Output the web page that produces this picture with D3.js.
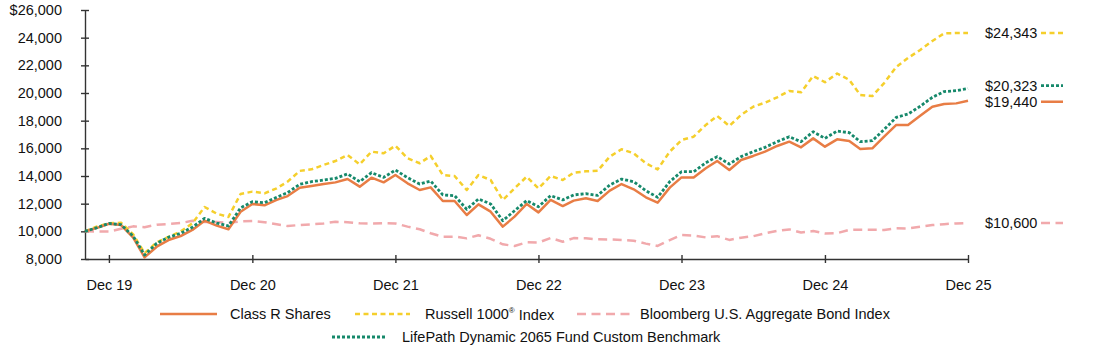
<!DOCTYPE html>
<html>
<head>
<meta charset="utf-8">
<script src="https://cdn.jsdelivr.net/npm/d3@7"></script>
<style>
  body { margin: 0; background: #fff; }
  svg { display: block; font-family: "Liberation Sans", Arial, sans-serif; }
</style>
</head>
<body>
<div id="chart"></div>
<script>
// month-end values, Oct 2019 .. Dec 2025
const classR = [10000, 10250, 10550, 10450, 9550, 8120, 8890, 9370, 9660, 10100, 10770, 10410, 10150, 11420, 11980,
  11880, 12270, 12550, 13150, 13280, 13420, 13540, 13780, 13230, 13880, 13540, 14070,
  13470, 12990, 13180, 12190, 12190, 11180, 11950, 11420, 10340, 11060, 11980, 11370,
  12270, 11830, 12220, 12390, 12190, 12940, 13420, 13040, 12460, 12070, 13160, 13900,
  13900, 14560, 15080, 14430, 15160, 15450, 15760, 16170, 16480, 16070, 16720, 16120,
  16650, 16530, 15950, 16000, 16840, 17690, 17690, 18360, 19010, 19200, 19250, 19440]
const russell = [10000, 10350, 10580, 10620, 9780, 8420, 9200, 9600, 9990, 10580, 11760, 11280, 11040, 12700, 12870,
  12750, 13110, 13590, 14370, 14480, 14800, 15080, 15520, 14840, 15760, 15640, 16190,
  15280, 14920, 15450, 14070, 14000, 12990, 14070, 13710, 12270, 13110, 13950, 13110,
  14000, 13710, 14240, 14340, 14380, 15400, 15930, 15640, 14920, 14480, 15760, 16600,
  16840, 17690, 18340, 17620, 18410, 19010, 19300, 19690, 20150, 20050, 21230, 20780,
  21410, 20950, 19860, 19780, 20720, 21880, 22530, 23110, 23760, 24310, 24340, 24343]
const bond = [10000, 9990, 9980, 10180, 10360, 10300, 10480, 10530, 10600, 10760, 10670, 10670, 10620, 10720, 10740,
  10660, 10510, 10380, 10460, 10510, 10570, 10690, 10660, 10580, 10570, 10590, 10570,
  10340, 10150, 9860, 9600, 9620, 9490, 9720, 9460, 9060, 8940, 9210, 9190,
  9520, 9250, 9510, 9500, 9420, 9410, 9380, 9320, 9110, 8940, 9370, 9730,
  9700, 9560, 9650, 9380, 9540, 9650, 9860, 10030, 10140, 9910, 10020, 9850,
  9870, 10100, 10120, 10110, 10100, 10220, 10210, 10330, 10450, 10520, 10570, 10600]
const custom = [10000, 10270, 10570, 10480, 9650, 8290, 9130, 9570, 9860, 10300, 10940, 10600, 10390, 11700, 12140,
  12070, 12460, 12800, 13400, 13590, 13710, 13830, 14150, 13590, 14240, 13900, 14430,
  13880, 13420, 13640, 12630, 12580, 11590, 12340, 11980, 10770, 11490, 12220, 11780,
  12580, 12270, 12630, 12720, 12600, 13350, 13780, 13590, 12940, 12460, 13590, 14310,
  14310, 14960, 15400, 14870, 15400, 15760, 16070, 16480, 16840, 16480, 17200, 16720,
  17250, 17130, 16480, 16550, 17370, 18240, 18480, 19040, 19690, 20100, 20170, 20323]

const seriesNames = ['Class R Shares', 'Russell 1000', 'Bloomberg U.S. Aggregate Bond Index',
  'LifePath Dynamic 2065 Fund Custom Benchmark']
const endLabels = ['$19,440', '$24,343', '$10,600', '$20,323']
const yTicks = [8000, 10000, 12000, 14000, 16000, 18000, 20000, 22000, 24000, 26000]

const width = 1094, height = 349
const fontSize = 14.5
const months = d3.timeMonth.range(new Date(2019, 9, 1), new Date(2026, 0, 1))
const xTicks = months.filter(d => d.getMonth() === 11)

const series = [
  { name: seriesNames[0], values: classR, color: '#E87D45', dash: null, w: 2.5, label: endLabels[0], nudge: 1 },
  { name: seriesNames[1], values: russell, color: '#F5CF2C', dash: '5,3.5', w: 2.5, label: endLabels[1], nudge: 0 },
  { name: seriesNames[2], values: bond, color: '#F1A9AC', dash: '9,5.5', w: 2.5, label: endLabels[2], nudge: 0 },
  { name: seriesNames[3], values: custom, color: '#16896B', dash: '3,2', w: 2.8, label: endLabels[3], nudge: -3 }
]

const svg = d3.select('#chart').append('svg')
  .attr('width', width).attr('height', height)

const x = d3.scaleTime().domain([months[0], months[months.length - 1]]).range([85, 968])
const y = d3.scaleLinear().domain([8000, 26000]).range([259, 10])

// axes
const yAxis = svg.append('g')
  .attr('transform', 'translate(85,0)')
  .call(d3.axisLeft(y).tickValues(yTicks).tickSizeOuter(0).tickSizeInner(4).tickPadding(19)
    .tickFormat(d => (d === 26000 ? '$' : '') + d3.format(',')(d)))
yAxis.selectAll('.tick line').attr('x1', -4).attr('x2', 4)

const xAxis = svg.append('g')
  .attr('transform', 'translate(0,259)')
  .call(d3.axisBottom(x).tickValues(xTicks).tickSizeOuter(0).tickSizeInner(4).tickPadding(17)
    .tickFormat(d3.timeFormat('Dec %y')))
xAxis.selectAll('.tick line').attr('y1', -4).attr('y2', 4)

svg.selectAll('.domain, .tick line').attr('stroke', '#333').attr('stroke-width', 1.4)
svg.selectAll('.tick text').attr('font-size', fontSize).attr('fill', '#111')
  .attr('font-family', '"Liberation Sans", Arial, sans-serif')

// lines, bond at the back, benchmark on top
const line = d3.line().x((d, i) => x(months[i])).y(d => y(d))
const drawOrder = [2, 1, 0, 3]
svg.append('g').selectAll('path')
  .data(drawOrder.map(i => series[i]))
  .enter().append('path')
  .attr('d', d => line(d.values))
  .attr('fill', 'none')
  .attr('stroke', d => d.color)
  .attr('stroke-width', d => d.w)
  .attr('stroke-dasharray', d => d.dash)
  .attr('stroke-linejoin', 'round')

// end labels
const ends = svg.append('g').selectAll('g')
  .data(series)
  .enter().append('g')
  .attr('transform', d => `translate(0,${y(d.values[d.values.length - 1]) + d.nudge})`)
ends.append('text')
  .attr('x', 985).attr('dy', '0.35em')
  .attr('font-size', fontSize).attr('fill', '#111')
  .text(d => d.label)
ends.append('line')
  .attr('x1', 1041).attr('x2', 1063)
  .attr('stroke', d => d.color).attr('stroke-width', d => d.w)
  .attr('stroke-dasharray', d => d.dash)

// legend
const legendPos = [
  { x: 160, y: 314 }, { x: 355, y: 314 }, { x: 577, y: 314 }, { x: 332, y: 337 }
]
const legend = svg.append('g').selectAll('g')
  .data(series)
  .enter().append('g')
  .attr('transform', (d, i) => `translate(${legendPos[i].x},${legendPos[i].y})`)
legend.append('line')
  .attr('x1', 0).attr('x2', (d, i) => i === 0 ? 57 : 55)
  .attr('stroke', d => d.color).attr('stroke-width', d => d.w)
  .attr('stroke-dasharray', d => d.dash)
const legendText = legend.append('text')
  .attr('x', (d, i) => i === 0 ? 70 : (i === 2 ? 63 : 70))
  .attr('dy', '0.35em')
  .attr('font-size', fontSize).attr('fill', '#111')
legendText.append('tspan').text(d => d.name)
legendText.filter((d, i) => i === 1).append('tspan')
  .attr('font-size', 8).attr('dy', '-0.7em').text('®')
legendText.filter((d, i) => i === 1).append('tspan')
  .attr('dy', '0.45em').text(' Index')
</script>
</body>
</html>
